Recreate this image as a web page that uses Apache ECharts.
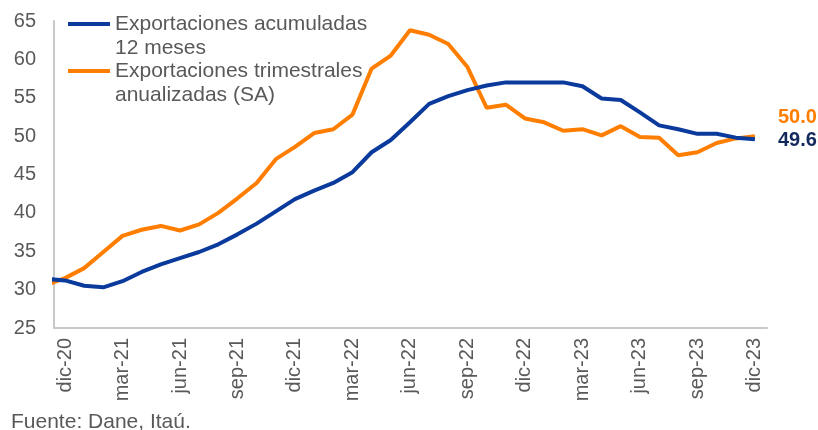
<!DOCTYPE html>
<html>
<head>
<meta charset="utf-8">
<script src="https://cdn.jsdelivr.net/npm/echarts@6/dist/echarts.min.js"></script>
<style>
  html, body { margin: 0; padding: 0; background: #fff; }
  #chart { width: 818px; height: 430px; }
</style>
</head>
<body>
<div id="chart"></div>
<script>
// meses (nov-20 queda fuera del eje, solo para que la linea entre desde el borde)
const months = ['nov-20', 'dic-20', 'ene-21', 'feb-21', 'mar-21', 'abr-21', 'may-21', 'jun-21',
  'jul-21', 'ago-21', 'sep-21', 'oct-21', 'nov-21', 'dic-21', 'ene-22', 'feb-22', 'mar-22',
  'abr-22', 'may-22', 'jun-22', 'jul-22', 'ago-22', 'sep-22', 'oct-22', 'nov-22', 'dic-22',
  'ene-23', 'feb-23', 'mar-23', 'abr-23', 'may-23', 'jun-23', 'jul-23', 'ago-23', 'sep-23',
  'oct-23', 'nov-23', 'dic-23'];

const acumuladas = [31.4, 31.2, 30.5, 30.3, 31.1, 32.3, 33.3, 34.1, 34.9, 35.9, 37.2, 38.6,
  40.2, 41.8, 42.9, 43.9, 45.3, 47.9, 49.5, 51.8, 54.2, 55.2, 56.0, 56.6, 57.0, 57.0, 57.0,
  57.0, 56.5, 54.9, 54.7, 53.1, 51.4, 50.9, 50.3, 50.3, 49.8, 49.6];

const trimestrales = [30.6, 31.5, 32.8, 34.9, 37.0, 37.8, 38.3, 37.7, 38.5, 40.0, 41.9, 43.9,
  47.0, 48.6, 50.4, 50.9, 52.8, 58.8, 60.5, 63.8, 63.2, 62.0, 59.0, 53.7, 54.1, 52.3, 51.8,
  50.7, 50.9, 50.1, 51.3, 49.9, 49.8, 47.5, 47.9, 49.1, 49.7, 50.0];

// etiquetas del eje x: cada 3 meses desde dic-20
const tickLabels = ['dic-20', 'mar-21', 'jun-21', 'sep-21', 'dic-21', 'mar-22', 'jun-22',
  'sep-22', 'dic-22', 'mar-23', 'jun-23', 'sep-23', 'dic-23'];

const seriesNames = ['Exportaciones acumuladas\n12 meses', 'Exportaciones trimestrales\nanualizadas (SA)'];

const FONT = '"Liberation Sans", Arial, sans-serif';
const BLUE = '#0a3a9c';
const ORANGE = '#ff7e00';

// indice 0 = dic-20
const toPoints = (arr) => arr.map((v, i) => [i - 1, v]);
const tickPos = tickLabels.map((_, k) => k * 3);

const chart = echarts.init(document.getElementById('chart'));

const option = {
  animation: false,
  textStyle: { fontFamily: FONT },
  title: {
    text: 'Fuente: Dane, Itaú.',
    left: 11,
    top: 412,
    padding: 0,
    textStyle: { fontSize: 21, fontWeight: 'normal', color: '#595959', fontFamily: FONT },
  },
  legend: {
    orient: 'vertical',
    left: 68,
    top: -12,
    padding: 0,
    itemGap: -25,
    itemWidth: 42,
    itemHeight: 4,
    icon: 'rect',
    data: seriesNames,
    // linea en blanco arriba para que el icono quede a la altura de la primera linea
    formatter: (name) => '\n' + name,
    textStyle: {
      fontSize: 21,
      lineHeight: 24,
      color: '#595959',
      fontFamily: FONT,
    },
  },
  grid: {
    left: 54,
    right: 51,
    top: 21,
    bottom: 102,
  },
  xAxis: {
    type: 'value',
    min: -0.574,
    max: 36.63,
    splitLine: { show: false },
    axisTick: { show: false },
    axisLine: { show: true, onZero: false, lineStyle: { color: '#c8c8c8', width: 2 } },
    axisLabel: {
      customValues: tickPos,
      rotate: 90,
      margin: 10,
      fontSize: 20,
      color: '#595959',
      fontFamily: FONT,
      formatter: (v) => tickLabels[Math.round(v / 3)] || '',
    },
  },
  yAxis: {
    type: 'value',
    min: 25,
    max: 65,
    interval: 5,
    splitLine: { show: false },
    axisTick: { show: false },
    axisLine: { show: true, onZero: false, lineStyle: { color: '#c8c8c8', width: 2 } },
    axisLabel: {
      margin: 18,
      fontSize: 20,
      color: '#595959',
      fontFamily: FONT,
    },
  },
  series: [
    {
      name: seriesNames[0],
      type: 'line',
      data: toPoints(acumuladas),
      symbol: 'none',
      clip: true,
      z: 3,
      lineStyle: { color: BLUE, width: 4 },
      itemStyle: { color: BLUE },
      endLabel: {
        show: true,
        formatter: (p) => p.value[1].toFixed(1),
        offset: [15, 1],
        fontSize: 20,
        fontWeight: 'bold',
        color: '#13295e',
        fontFamily: FONT,
      },
    },
    {
      name: seriesNames[1],
      type: 'line',
      data: toPoints(trimestrales),
      symbol: 'none',
      clip: true,
      z: 2,
      lineStyle: { color: ORANGE, width: 4 },
      itemStyle: { color: ORANGE },
      endLabel: {
        show: true,
        formatter: (p) => p.value[1].toFixed(1),
        offset: [15, -19],
        fontSize: 20,
        fontWeight: 'bold',
        color: ORANGE,
        fontFamily: FONT,
      },
    },
  ],
};

chart.setOption(option);
</script>
</body>
</html>
